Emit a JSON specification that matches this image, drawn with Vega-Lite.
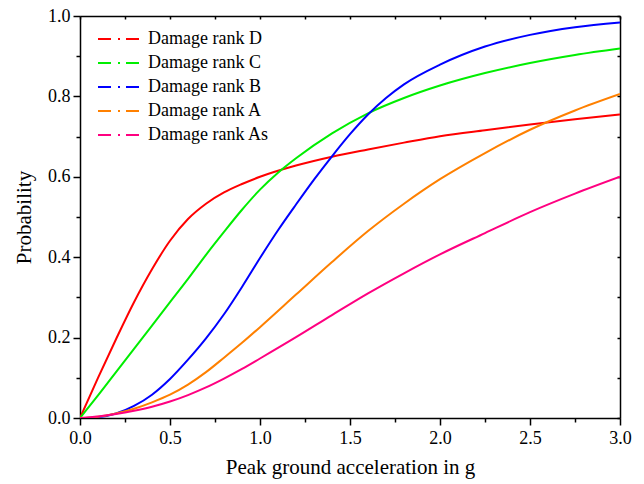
{
  "$schema": "https://vega.github.io/schema/vega-lite/v6.json",
  "autosize": "none",
  "width": 540,
  "height": 402,
  "padding": {"left": 80, "top": 16, "right": 24, "bottom": 66},
  "background": "white",
  "config": {
    "view": {"stroke": null},
    "font": "Liberation Serif",
    "axis": {"labelFontSize": 18, "titleFontSize": 21, "titleFontWeight": "normal", "labelColor": "black", "titleColor": "black", "domainColor": "black", "tickColor": "black", "domainWidth": 1.5, "tickWidth": 1.5, "grid": false}
  },
  "data": {"values": [
    {"pga":0,"probability":0,"rank":"Damage rank D"},
    {"pga":0.1,"probability":0.1,"rank":"Damage rank D"},
    {"pga":0.2,"probability":0.196,"rank":"Damage rank D"},
    {"pga":0.3,"probability":0.288,"rank":"Damage rank D"},
    {"pga":0.4,"probability":0.37,"rank":"Damage rank D"},
    {"pga":0.5,"probability":0.441,"rank":"Damage rank D"},
    {"pga":0.6,"probability":0.495,"rank":"Damage rank D"},
    {"pga":0.7,"probability":0.533,"rank":"Damage rank D"},
    {"pga":0.8,"probability":0.561,"rank":"Damage rank D"},
    {"pga":0.9,"probability":0.582,"rank":"Damage rank D"},
    {"pga":1.0,"probability":0.6,"rank":"Damage rank D"},
    {"pga":1.2,"probability":0.628,"rank":"Damage rank D"},
    {"pga":1.4,"probability":0.65,"rank":"Damage rank D"},
    {"pga":1.6,"probability":0.668,"rank":"Damage rank D"},
    {"pga":1.8,"probability":0.685,"rank":"Damage rank D"},
    {"pga":2.0,"probability":0.701,"rank":"Damage rank D"},
    {"pga":2.25,"probability":0.716,"rank":"Damage rank D"},
    {"pga":2.5,"probability":0.73,"rank":"Damage rank D"},
    {"pga":2.75,"probability":0.743,"rank":"Damage rank D"},
    {"pga":3.0,"probability":0.755,"rank":"Damage rank D"},
    {"pga":0,"probability":0,"rank":"Damage rank C"},
    {"pga":0.1,"probability":0.056,"rank":"Damage rank C"},
    {"pga":0.2,"probability":0.114,"rank":"Damage rank C"},
    {"pga":0.3,"probability":0.172,"rank":"Damage rank C"},
    {"pga":0.4,"probability":0.23,"rank":"Damage rank C"},
    {"pga":0.5,"probability":0.288,"rank":"Damage rank C"},
    {"pga":0.6,"probability":0.346,"rank":"Damage rank C"},
    {"pga":0.7,"probability":0.406,"rank":"Damage rank C"},
    {"pga":0.8,"probability":0.463,"rank":"Damage rank C"},
    {"pga":0.9,"probability":0.518,"rank":"Damage rank C"},
    {"pga":1.0,"probability":0.568,"rank":"Damage rank C"},
    {"pga":1.1,"probability":0.61,"rank":"Damage rank C"},
    {"pga":1.2,"probability":0.646,"rank":"Damage rank C"},
    {"pga":1.4,"probability":0.708,"rank":"Damage rank C"},
    {"pga":1.6,"probability":0.758,"rank":"Damage rank C"},
    {"pga":1.8,"probability":0.796,"rank":"Damage rank C"},
    {"pga":2.0,"probability":0.827,"rank":"Damage rank C"},
    {"pga":2.25,"probability":0.858,"rank":"Damage rank C"},
    {"pga":2.5,"probability":0.883,"rank":"Damage rank C"},
    {"pga":2.75,"probability":0.903,"rank":"Damage rank C"},
    {"pga":3.0,"probability":0.919,"rank":"Damage rank C"},
    {"pga":0,"probability":0,"rank":"Damage rank B"},
    {"pga":0.1,"probability":0.002,"rank":"Damage rank B"},
    {"pga":0.2,"probability":0.011,"rank":"Damage rank B"},
    {"pga":0.3,"probability":0.03,"rank":"Damage rank B"},
    {"pga":0.4,"probability":0.058,"rank":"Damage rank B"},
    {"pga":0.5,"probability":0.097,"rank":"Damage rank B"},
    {"pga":0.6,"probability":0.145,"rank":"Damage rank B"},
    {"pga":0.7,"probability":0.198,"rank":"Damage rank B"},
    {"pga":0.8,"probability":0.258,"rank":"Damage rank B"},
    {"pga":0.9,"probability":0.326,"rank":"Damage rank B"},
    {"pga":1.0,"probability":0.398,"rank":"Damage rank B"},
    {"pga":1.1,"probability":0.467,"rank":"Damage rank B"},
    {"pga":1.2,"probability":0.531,"rank":"Damage rank B"},
    {"pga":1.3,"probability":0.593,"rank":"Damage rank B"},
    {"pga":1.4,"probability":0.651,"rank":"Damage rank B"},
    {"pga":1.5,"probability":0.706,"rank":"Damage rank B"},
    {"pga":1.6,"probability":0.755,"rank":"Damage rank B"},
    {"pga":1.7,"probability":0.796,"rank":"Damage rank B"},
    {"pga":1.8,"probability":0.83,"rank":"Damage rank B"},
    {"pga":2.0,"probability":0.879,"rank":"Damage rank B"},
    {"pga":2.25,"probability":0.924,"rank":"Damage rank B"},
    {"pga":2.5,"probability":0.953,"rank":"Damage rank B"},
    {"pga":2.75,"probability":0.972,"rank":"Damage rank B"},
    {"pga":3.0,"probability":0.984,"rank":"Damage rank B"},
    {"pga":0,"probability":0,"rank":"Damage rank A"},
    {"pga":0.1,"probability":0.003,"rank":"Damage rank A"},
    {"pga":0.2,"probability":0.011,"rank":"Damage rank A"},
    {"pga":0.3,"probability":0.023,"rank":"Damage rank A"},
    {"pga":0.4,"probability":0.039,"rank":"Damage rank A"},
    {"pga":0.5,"probability":0.058,"rank":"Damage rank A"},
    {"pga":0.6,"probability":0.083,"rank":"Damage rank A"},
    {"pga":0.7,"probability":0.114,"rank":"Damage rank A"},
    {"pga":0.8,"probability":0.15,"rank":"Damage rank A"},
    {"pga":0.9,"probability":0.187,"rank":"Damage rank A"},
    {"pga":1.0,"probability":0.226,"rank":"Damage rank A"},
    {"pga":1.2,"probability":0.307,"rank":"Damage rank A"},
    {"pga":1.4,"probability":0.388,"rank":"Damage rank A"},
    {"pga":1.6,"probability":0.465,"rank":"Damage rank A"},
    {"pga":1.8,"probability":0.533,"rank":"Damage rank A"},
    {"pga":2.0,"probability":0.594,"rank":"Damage rank A"},
    {"pga":2.25,"probability":0.659,"rank":"Damage rank A"},
    {"pga":2.5,"probability":0.717,"rank":"Damage rank A"},
    {"pga":2.75,"probability":0.765,"rank":"Damage rank A"},
    {"pga":3.0,"probability":0.806,"rank":"Damage rank A"},
    {"pga":0,"probability":0,"rank":"Damage rank As"},
    {"pga":0.1,"probability":0.004,"rank":"Damage rank As"},
    {"pga":0.2,"probability":0.01,"rank":"Damage rank As"},
    {"pga":0.3,"probability":0.018,"rank":"Damage rank As"},
    {"pga":0.4,"probability":0.028,"rank":"Damage rank As"},
    {"pga":0.5,"probability":0.041,"rank":"Damage rank As"},
    {"pga":0.6,"probability":0.057,"rank":"Damage rank As"},
    {"pga":0.7,"probability":0.076,"rank":"Damage rank As"},
    {"pga":0.8,"probability":0.098,"rank":"Damage rank As"},
    {"pga":0.9,"probability":0.122,"rank":"Damage rank As"},
    {"pga":1.0,"probability":0.148,"rank":"Damage rank As"},
    {"pga":1.2,"probability":0.201,"rank":"Damage rank As"},
    {"pga":1.4,"probability":0.256,"rank":"Damage rank As"},
    {"pga":1.6,"probability":0.31,"rank":"Damage rank As"},
    {"pga":1.8,"probability":0.36,"rank":"Damage rank As"},
    {"pga":2.0,"probability":0.407,"rank":"Damage rank As"},
    {"pga":2.25,"probability":0.46,"rank":"Damage rank As"},
    {"pga":2.5,"probability":0.512,"rank":"Damage rank As"},
    {"pga":2.75,"probability":0.558,"rank":"Damage rank As"},
    {"pga":3.0,"probability":0.6,"rank":"Damage rank As"}
  ]},
  "layer": [
    {
      "mark": {"type": "line", "strokeWidth": 2, "interpolate": "monotone", "clip": true},
      "encoding": {
        "x": {"field": "pga", "type": "quantitative", "scale": {"domain": [0, 3], "nice": false},
          "axis": {"orient": "bottom", "title": "Peak ground acceleration in g", "values": [0,0.25,0.5,0.75,1,1.25,1.5,1.75,2,2.25,2.5,2.75,3],
            "labelFont": "Liberation Serif", "titleFont": "Liberation Serif",
            "labelExpr": "datum.value % 0.5 === 0 ? format(datum.value, '.1f') : ''",
            "tickSize": {"condition": {"test": "datum.value % 0.5 === 0", "value": 7}, "value": 4},
            "labelPadding": 4, "titlePadding": 9, "labelFlush": false, "labelOverlap": false}},
        "y": {"field": "probability", "type": "quantitative", "scale": {"domain": [0, 1], "nice": false},
          "axis": {"orient": "left", "title": "Probability", "values": [0,0.1,0.2,0.3,0.4,0.5,0.6,0.7,0.8,0.9,1],
            "labelFont": "Liberation Serif", "titleFont": "Liberation Serif",
            "labelExpr": "round(datum.value*10) % 2 === 0 ? format(datum.value, '.1f') : ''",
            "tickSize": {"condition": {"test": "round(datum.value*10) % 2 === 0", "value": 7}, "value": 4},
            "labelPadding": 3, "titlePadding": 13, "labelFlush": false, "labelOverlap": false}},
        "color": {"field": "rank", "type": "nominal",
          "scale": {"domain": ["Damage rank D","Damage rank C","Damage rank B","Damage rank A","Damage rank As"], "range": ["#ff0000","#00ee00","#0000ff","#ff8000","#ff0080"]},
          "legend": {"title": null, "orient": "none", "legendX": 30, "legendY": 14, "symbolType": "M-3,0H3", "symbolSize": 196, "symbolStrokeWidth": 2, "symbolDash": [13,7,2,6], "labelFont": "Liberation Serif", "labelFontSize": 18, "labelColor": "black", "labelOffset": 20, "rowPadding": 6, "labelLimit": 300}}
      }
    },
    {
      "mark": {"type": "line", "strokeOpacity": 0},
      "encoding": {
        "x": {"field": "pga", "type": "quantitative", "scale": {"domain": [0, 3], "nice": false},
          "axis": {"orient": "top", "title": null, "labels": false, "values": [0,0.25,0.5,0.75,1,1.25,1.5,1.75,2,2.25,2.5,2.75,3], "tickSize": -3}},
        "y": {"field": "probability", "type": "quantitative", "scale": {"domain": [0, 1], "nice": false},
          "axis": {"orient": "right", "title": null, "labels": false, "values": [0,0.1,0.2,0.3,0.4,0.5,0.6,0.7,0.8,0.9,1], "tickSize": -3}},
        "detail": {"field": "rank", "type": "nominal"}
      }
    }
  ],
  "resolve": {"axis": {"x": "independent", "y": "independent"}}
}
